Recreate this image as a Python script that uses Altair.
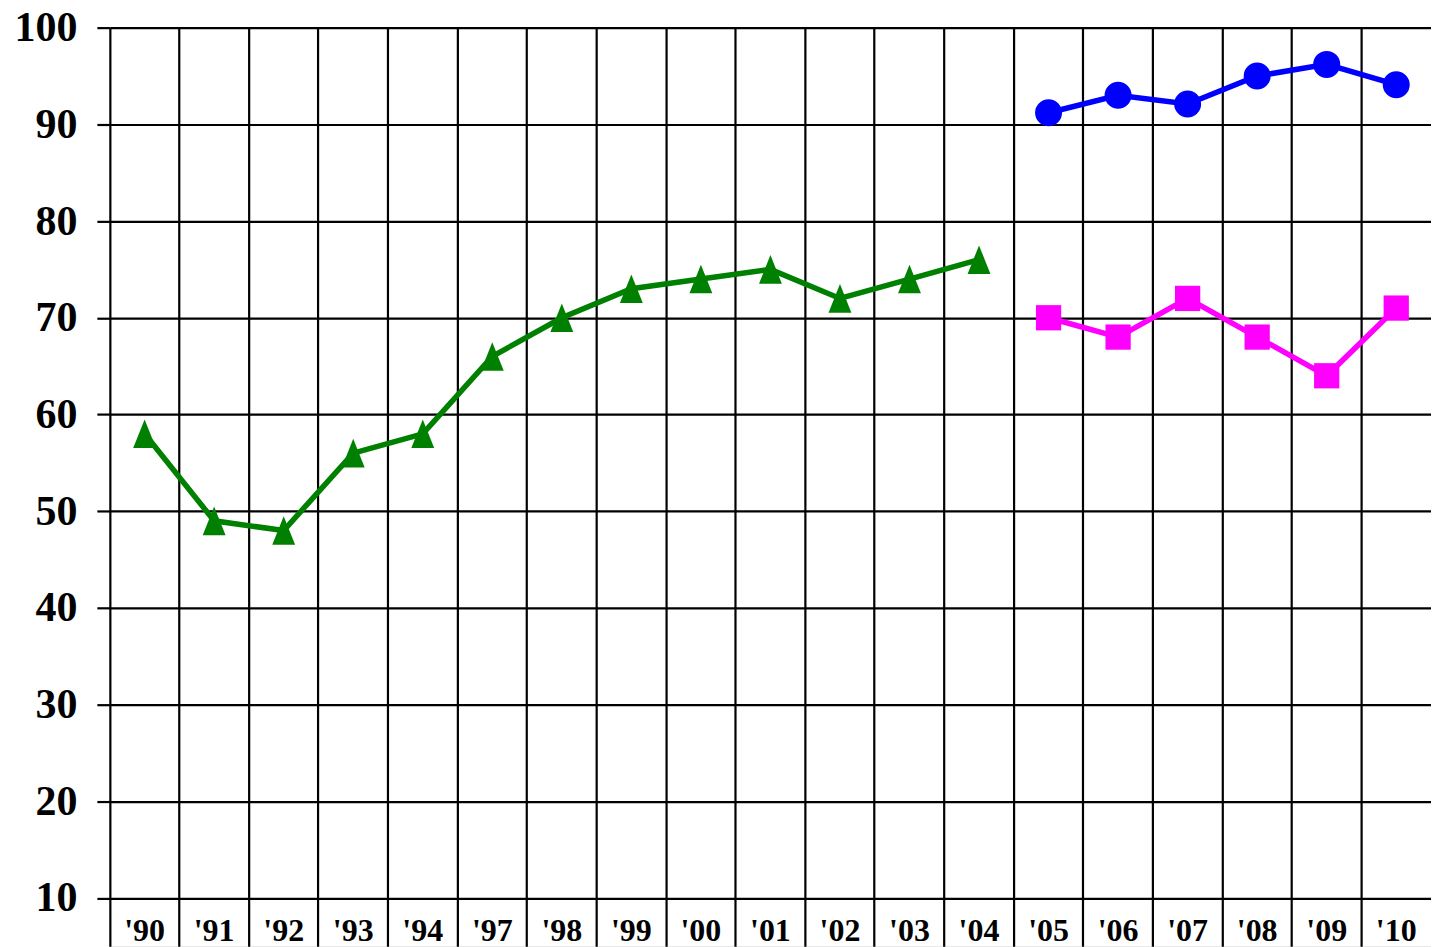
import altair as alt
import pandas as pd

categories = ["'90", "'91", "'92", "'93", "'94", "'97", "'98", "'99", "'00", "'01",
              "'02", "'03", "'04", "'05", "'06", "'07", "'08", "'09", "'10"]

green_years = ["'90", "'91", "'92", "'93", "'94", "'97", "'98", "'99", "'00", "'01", "'02", "'03", "'04"]
green_vals = [58, 49, 48, 56, 58, 66, 70, 73, 74, 75, 72, 74, 76]

late_years = ["'05", "'06", "'07", "'08", "'09", "'10"]
blue_vals = [91.2, 93, 92.1, 95, 96.2, 94.1]
magenta_vals = [70, 68, 72, 68, 64, 71]

y_ticks = [10, 20, 30, 40, 50, 60, 70, 80, 90, 100]

rows = []
for c, v in zip(green_years, green_vals):
    rows.append({"year": c, "value": v, "series": "green"})
for c, v in zip(late_years, blue_vals):
    rows.append({"year": c, "value": v, "series": "blue"})
for c, v in zip(late_years, magenta_vals):
    rows.append({"year": c, "value": v, "series": "magenta"})
df = pd.DataFrame(rows)
labels_df = pd.DataFrame({"year": categories})

FONT = "Liberation Serif"

xscale = alt.Scale(type="band", domain=categories, paddingInner=0, paddingOuter=0)
yscale = alt.Scale(domain=[5, 100], nice=False, zero=False)

color = alt.Color("series:N", legend=None,
                  scale=alt.Scale(domain=["green", "blue", "magenta"],
                                  range=["#008000", "#0000ff", "#ff00ff"]))
tri = "M0,-1L-0.8,1L0.8,1Z"
shape = alt.Shape("series:N", legend=None,
                  scale=alt.Scale(domain=["green", "blue", "magenta"],
                                  range=[tri, "circle", "square"]))
size = alt.Size("series:N", legend=None,
                scale=alt.Scale(domain=["green", "blue", "magenta"],
                                range=[820, 640, 760]))

x_enc = alt.X("year:N", scale=xscale, sort=categories,
              axis=alt.Axis(title=None, labels=False, ticks=False, domain=False,
                            grid=True, bandPosition=0, gridColor="black",
                            gridWidth=2.2, gridOpacity=1))
y_enc = alt.Y("value:Q", scale=yscale,
              axis=alt.Axis(title=None, values=y_ticks, grid=True, gridColor="black",
                            gridWidth=2.2, gridOpacity=1, domain=False,
                            tickColor="black", tickWidth=2.2, tickSize=13,
                            labelFont=FONT, labelFontSize=42, labelFontWeight="bold",
                            labelColor="black", labelPadding=20))

lines = alt.Chart(df).mark_line(strokeWidth=5.5).encode(
    x=x_enc, y=y_enc, color=color, detail="series:N")
points = alt.Chart(df).mark_point(filled=True, opacity=1).encode(
    x=alt.X("year:N", scale=xscale, sort=categories),
    y=alt.Y("value:Q", scale=yscale),
    color=color, shape=shape, size=size)
texts = alt.Chart(labels_df).mark_text(
    font=FONT, fontSize=32, fontWeight="bold", color="black",
    align="center", baseline="alphabetic").encode(
    x=alt.X("year:N", scale=xscale, sort=categories),
    y=alt.value(915), text="year:N")

chart = alt.layer(lines, points, texts).properties(
    width=1323, height=920,
    autosize=alt.AutoSizeParams(type="none"),
    padding={"left": 102, "top": 19, "right": 0, "bottom": 0},
).configure_view(stroke="black", strokeWidth=2.2).configure(background="white")

chart.save("out.html", embed_options={"renderer": "svg", "actions": False})
